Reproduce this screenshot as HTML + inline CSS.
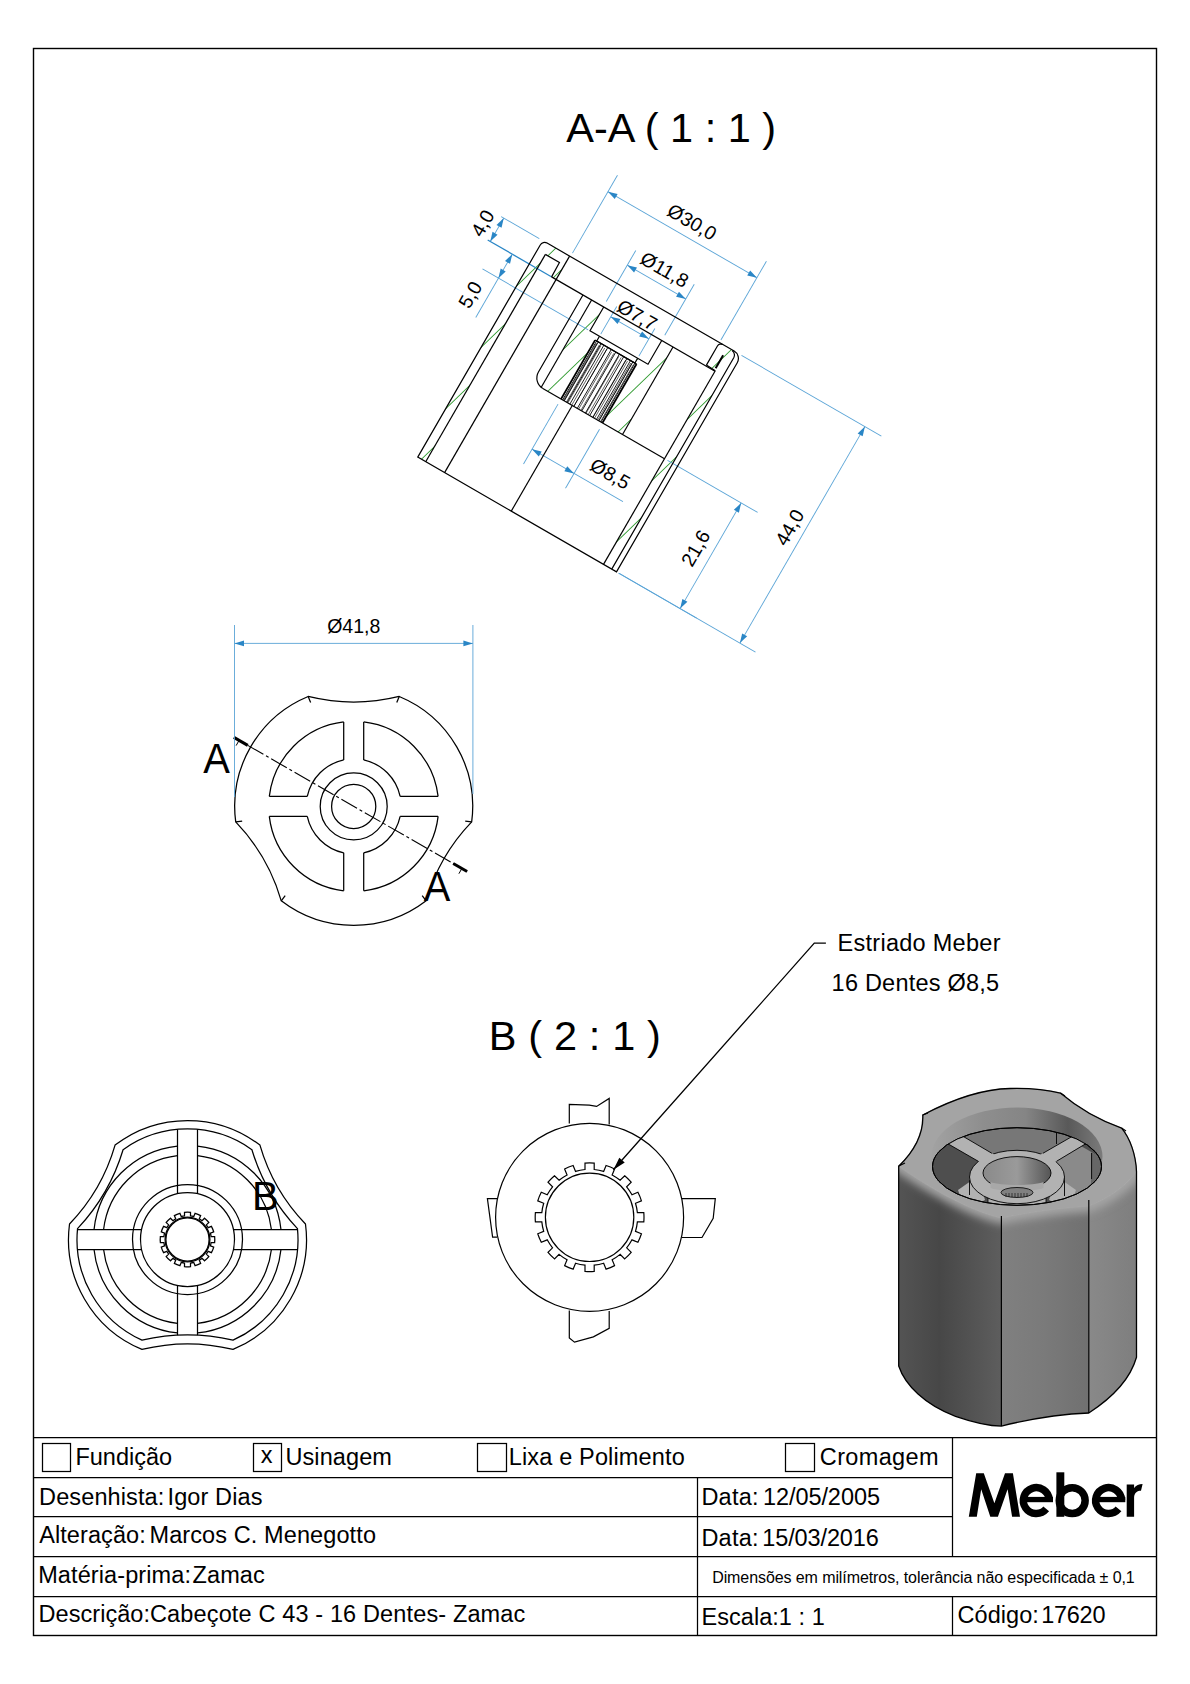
<!DOCTYPE html>
<html><head><meta charset="utf-8">
<style>
html,body{margin:0;padding:0;background:#fff;}
body{width:1190px;height:1684px;overflow:hidden;position:relative;}
svg{position:absolute;left:0;top:0;}
svg text{font-family:"Liberation Sans",sans-serif;fill:#000;}
</style></head><body>
<svg width="1190" height="1684" viewBox="0 0 1190 1684">
<rect x="33.5" y="48.5" width="1123" height="1587" fill="none" stroke="#000" stroke-width="1.4"/><g stroke="#000" stroke-width="1.25" fill="none">
<line x1="33.5" y1="1437.5" x2="1156.5" y2="1437.5"/>
<line x1="33.5" y1="1477.5" x2="952.5" y2="1477.5"/>
<line x1="33.5" y1="1516.5" x2="952.5" y2="1516.5"/>
<line x1="33.5" y1="1556.5" x2="1156.5" y2="1556.5"/>
<line x1="33.5" y1="1596.5" x2="1156.5" y2="1596.5"/>
<line x1="697.5" y1="1477.5" x2="697.5" y2="1635.5"/>
<line x1="952.5" y1="1437.5" x2="952.5" y2="1556.5"/>
<line x1="952.5" y1="1596.5" x2="952.5" y2="1635.5"/>
<rect x="42.5" y="1443.5" width="28" height="28"/>
<rect x="253.5" y="1443.5" width="28" height="28"/>
<rect x="477.5" y="1443.5" width="29" height="28"/>
<rect x="785.5" y="1443.5" width="29" height="28"/>
</g><text x="75.4" y="1464.8" font-size="23.5">Fundição</text><text x="260.8" y="1463.1" font-size="23.5">x</text><text x="285.4" y="1464.8" font-size="23.5" letter-spacing="0.10">Usinagem</text><text x="508.7" y="1464.8" font-size="23.5" letter-spacing="0.16">Lixa e Polimento</text><text x="819.8" y="1464.8" font-size="23.5" letter-spacing="0.36">Cromagem</text><text x="39.1" y="1504.8" font-size="23.5" letter-spacing="0.11">Desenhista:</text><text x="167.5" y="1504.8" font-size="23.5" letter-spacing="0.11">Igor Dias</text><text x="39.2" y="1543.4" font-size="23.5" letter-spacing="0.08">Alteração:</text><text x="149.5" y="1543.4" font-size="23.5" letter-spacing="0.10">Marcos C. Menegotto</text><text x="38.2" y="1583.3" font-size="23.5" letter-spacing="0.10">Matéria-prima:</text><text x="192.6" y="1583.3" font-size="23.5" letter-spacing="0.08">Zamac</text><text x="38.6" y="1622.3" font-size="23.5" letter-spacing="0.04">Descrição:</text><text x="150.0" y="1622.3" font-size="23.5" letter-spacing="0.14">Cabeçote C 43 - 16 Dentes- Zamac</text><text x="701.4" y="1505.2" font-size="23.5" letter-spacing="0.24">Data:</text><text x="762.9" y="1505.2" font-size="23.5" letter-spacing="-0.06">12/05/2005</text><text x="701.4" y="1545.5" font-size="23.5" letter-spacing="0.24">Data:</text><text x="762.3" y="1545.5" font-size="23.5" letter-spacing="-0.12">15/03/2016</text><text x="701.6" y="1625.3" font-size="23.5" letter-spacing="0.03">Escala:1 : 1</text><text x="957.6" y="1623.4" font-size="23.5" letter-spacing="0.04">Código:</text><text x="1041.2" y="1623.4" font-size="23.5" letter-spacing="-0.27">17620</text><text x="712.2" y="1583.4" font-size="16" letter-spacing="-0.09">Dimensões em milímetros, tolerância não especificada ± 0,1</text><text x="566.3" y="141.8" font-size="41.5">A-A ( 1 : 1 )</text><text x="488.8" y="1050.0" font-size="41.5" letter-spacing="0.14">B ( 2 : 1 )</text><text x="837.5" y="951.1" font-size="23.5" letter-spacing="0.28">Estriado Meber</text><text x="831.6" y="990.6" font-size="23.5" letter-spacing="0.22">16 Dentes Ø8,5</text><polygon points="968.8,1516.8 976.2,1473.2 983.8,1473.2 994.4,1503.3 1005,1473.2 1012.9,1473.2 1020,1516.8 1012.1,1516.8 1007.6,1489.2 997.9,1516.8 990.3,1516.8 981.2,1489.2 976.8,1516.8" fill="#000"/><path d="M1049.23,1499.92 A12.95,12.95 0 1 0 1046.22,1508.92" fill="none" stroke="#000" stroke-width="7.5"/><rect x="1022.3" y="1496.9" width="30.7" height="5.3" fill="#000"/><path d="M1121.53,1499.92 A12.95,12.95 0 1 0 1118.52,1508.92" fill="none" stroke="#000" stroke-width="7.5"/><rect x="1094.6" y="1496.9" width="30.7" height="5.3" fill="#000"/><rect x="1056.4" y="1472.3" width="7.9" height="44.5" fill="#000"/><circle cx="1072.2" cy="1500.6" r="12.95" fill="none" stroke="#000" stroke-width="7.5"/><path d="M1126.7,1516.8 L1126.7,1484.4 L1134.1,1484.4 L1134.1,1488 C1136,1485 1139,1483.9 1142.6,1483.9 L1141,1490.7 C1137.5,1490.7 1134.5,1492.5 1134.1,1497 L1134.1,1516.8 Z" fill="#000"/>
<g fill="none" stroke="#000" stroke-width="1.25"><path d="M471.68,821.93 A190,190 0 0 0 426.14,900.81 A119,119 0 0 1 281.26,900.81 A190,190 0 0 0 235.72,821.93 A119,119 0 0 1 308.16,696.46 A190,190 0 0 0 399.24,696.46 A119,119 0 0 1 471.68,821.93 Z"/><line x1="308.16" y1="696.46" x2="310.64" y2="702.47"/><line x1="399.24" y1="696.46" x2="396.76" y2="702.47"/><line x1="471.68" y1="821.93" x2="465.24" y2="821.08"/><line x1="426.14" y1="900.81" x2="422.18" y2="895.66"/><line x1="281.26" y1="900.81" x2="285.22" y2="895.66"/><line x1="235.72" y1="821.93" x2="242.16" y2="821.08"/><path d="M438.11,816.4 A85,85 0 0 1 363.7,890.81"/><path d="M343.7,890.81 A85,85 0 0 1 269.29,816.4"/><path d="M269.29,796.4 A85,85 0 0 1 343.7,721.99"/><path d="M363.7,721.99 A85,85 0 0 1 438.11,796.4"/><path d="M400.14,816.4 A47.5,47.5 0 0 1 363.7,852.84"/><path d="M343.7,852.84 A47.5,47.5 0 0 1 307.26,816.4"/><path d="M307.26,796.4 A47.5,47.5 0 0 1 343.7,759.96"/><path d="M363.7,759.96 A47.5,47.5 0 0 1 400.14,796.4"/><line x1="400.14" y1="796.4" x2="438.11" y2="796.4"/><line x1="400.14" y1="816.4" x2="438.11" y2="816.4"/><line x1="363.7" y1="852.84" x2="363.7" y2="890.81"/><line x1="343.7" y1="852.84" x2="343.7" y2="890.81"/><line x1="307.26" y1="816.4" x2="269.29" y2="816.4"/><line x1="307.26" y1="796.4" x2="269.29" y2="796.4"/><line x1="343.7" y1="759.96" x2="343.7" y2="721.99"/><line x1="363.7" y1="759.96" x2="363.7" y2="721.99"/><circle cx="353.7" cy="806.4" r="33.5"/><circle cx="353.7" cy="806.4" r="22.1"/></g><line x1="233.9" y1="737.4" x2="467.1" y2="871.49" stroke="#000" stroke-width="1.1" stroke-dasharray="18 3 3 3" stroke-dashoffset="-16"/><line x1="233.9" y1="737.4" x2="247.77" y2="745.38" stroke="#000" stroke-width="3"/><line x1="239.1" y1="740.39" x2="236.11" y2="745.59" stroke="#000" stroke-width="1"/><line x1="467.1" y1="871.49" x2="453.22" y2="863.52" stroke="#000" stroke-width="3"/><line x1="461.89" y1="868.5" x2="458.9" y2="873.7" stroke="#000" stroke-width="1"/><text transform="translate(216.5,773) scale(0.95,1)" x="0" y="0" font-size="42" text-anchor="middle">A</text><text transform="translate(437.1,900.6) scale(0.95,1)" x="0" y="0" font-size="42" text-anchor="middle">A</text><g stroke="#5aa4d6" stroke-width="0.9" fill="none"><line x1="234.5" y1="625" x2="234.5" y2="797"/><line x1="472.9" y1="625" x2="472.9" y2="794"/><line x1="234.5" y1="643.4" x2="472.9" y2="643.4"/></g><path d="M234.5,643.4 L244,640.5 L244,646.3 Z" fill="#2a86c6" stroke="none"/><path d="M472.9,643.4 L463.4,646.3 L463.4,640.5 Z" fill="#2a86c6" stroke="none"/><text x="353.7" y="632.6" font-size="19.5" text-anchor="middle">Ø41,8</text>
<g fill="none" stroke="#000" stroke-width="1.25"><path d="M233.04,1349.44 A190,190 0 0 0 141.96,1349.44 A119,119 0 0 1 69.52,1223.97 A190,190 0 0 0 115.06,1145.09 A119,119 0 0 1 259.94,1145.09 A190,190 0 0 0 305.48,1223.97 A119,119 0 0 1 233.04,1349.44 Z"/><path d="M233.04,1340.18 A199,199 0 0 0 141.96,1340.18 A110.5,110.5 0 0 1 77.54,1228.6 A199,199 0 0 0 123.08,1149.72 A110.5,110.5 0 0 1 251.92,1149.72 A199,199 0 0 0 297.46,1228.6 A110.5,110.5 0 0 1 233.04,1340.18 Z"/><path d="M280.97,1249.5 A94,94 0 0 1 197.5,1332.97"/><path d="M177.5,1332.97 A94,94 0 0 1 94.03,1249.5"/><path d="M94.03,1229.5 A94,94 0 0 1 177.5,1146.03"/><path d="M197.5,1146.03 A94,94 0 0 1 280.97,1229.5"/><path d="M271.41,1249.5 A84.5,84.5 0 0 1 197.5,1323.41"/><path d="M177.5,1323.41 A84.5,84.5 0 0 1 103.59,1249.5"/><path d="M103.59,1229.5 A84.5,84.5 0 0 1 177.5,1155.59"/><path d="M197.5,1155.59 A84.5,84.5 0 0 1 271.41,1229.5"/><circle cx="187.5" cy="1239.5" r="55"/><circle cx="187.5" cy="1239.5" r="47"/><line x1="233.42" y1="1229.5" x2="297.67" y2="1229.5"/><line x1="233.42" y1="1249.5" x2="297.67" y2="1249.5"/><line x1="197.5" y1="1285.42" x2="197.5" y2="1335.17"/><line x1="177.5" y1="1285.42" x2="177.5" y2="1335.17"/><line x1="141.58" y1="1249.5" x2="77.33" y2="1249.5"/><line x1="141.58" y1="1229.5" x2="77.33" y2="1229.5"/><line x1="177.5" y1="1193.58" x2="177.5" y2="1129.33"/><line x1="197.5" y1="1193.58" x2="197.5" y2="1129.33"/><path d="M211.11,1236.5 L214.63,1236.5 A27.3,27.3 0 0 1 214.63,1242.5 L211.11,1242.5 A23.8,23.8 0 0 1 210.46,1245.76 L213.72,1247.11 A27.3,27.3 0 0 1 211.42,1252.66 L208.16,1251.31 A23.8,23.8 0 0 1 206.32,1254.07 L208.81,1256.57 A27.3,27.3 0 0 1 204.57,1260.81 L202.07,1258.32 A23.8,23.8 0 0 1 199.31,1260.16 L200.66,1263.42 A27.3,27.3 0 0 1 195.11,1265.72 L193.76,1262.46 A23.8,23.8 0 0 1 190.5,1263.11 L190.5,1266.63 A27.3,27.3 0 0 1 184.5,1266.63 L184.5,1263.11 A23.8,23.8 0 0 1 181.24,1262.46 L179.89,1265.72 A27.3,27.3 0 0 1 174.34,1263.42 L175.69,1260.16 A23.8,23.8 0 0 1 172.93,1258.32 L170.43,1260.81 A27.3,27.3 0 0 1 166.19,1256.57 L168.68,1254.07 A23.8,23.8 0 0 1 166.84,1251.31 L163.58,1252.66 A27.3,27.3 0 0 1 161.28,1247.11 L164.54,1245.76 A23.8,23.8 0 0 1 163.89,1242.5 L160.37,1242.5 A27.3,27.3 0 0 1 160.37,1236.5 L163.89,1236.5 A23.8,23.8 0 0 1 164.54,1233.24 L161.28,1231.89 A27.3,27.3 0 0 1 163.58,1226.34 L166.84,1227.69 A23.8,23.8 0 0 1 168.68,1224.93 L166.19,1222.43 A27.3,27.3 0 0 1 170.43,1218.19 L172.93,1220.68 A23.8,23.8 0 0 1 175.69,1218.84 L174.34,1215.58 A27.3,27.3 0 0 1 179.89,1213.28 L181.24,1216.54 A23.8,23.8 0 0 1 184.5,1215.89 L184.5,1212.37 A27.3,27.3 0 0 1 190.5,1212.37 L190.5,1215.89 A23.8,23.8 0 0 1 193.76,1216.54 L195.11,1213.28 A27.3,27.3 0 0 1 200.66,1215.58 L199.31,1218.84 A23.8,23.8 0 0 1 202.07,1220.68 L204.57,1218.19 A27.3,27.3 0 0 1 208.81,1222.43 L206.32,1224.93 A23.8,23.8 0 0 1 208.16,1227.69 L211.42,1226.34 A27.3,27.3 0 0 1 213.72,1231.89 L210.46,1233.24 A23.8,23.8 0 0 1 211.11,1236.5 Z"/><circle cx="187.5" cy="1239.5" r="21.6"/><circle cx="187.5" cy="1239.5" r="22.4"/></g><text x="252" y="1210" font-size="40">B</text>
<g fill="none" stroke="#000" stroke-width="1.2"><circle cx="589.6" cy="1217.3" r="94"/><path d="M637.38,1212.7 L643.81,1212.7 A54.4,54.4 0 0 1 643.81,1221.9 L637.38,1221.9 A48,48 0 0 1 635.5,1231.33 L641.44,1233.79 A54.4,54.4 0 0 1 637.92,1242.29 L631.98,1239.83 A48,48 0 0 1 626.64,1247.83 L631.18,1252.38 A54.4,54.4 0 0 1 624.68,1258.88 L620.13,1254.34 A48,48 0 0 1 612.13,1259.68 L614.59,1265.62 A54.4,54.4 0 0 1 606.09,1269.14 L603.63,1263.2 A48,48 0 0 1 594.2,1265.08 L594.2,1271.51 A54.4,54.4 0 0 1 585,1271.51 L585,1265.08 A48,48 0 0 1 575.57,1263.2 L573.11,1269.14 A54.4,54.4 0 0 1 564.61,1265.62 L567.07,1259.68 A48,48 0 0 1 559.07,1254.34 L554.52,1258.88 A54.4,54.4 0 0 1 548.02,1252.38 L552.56,1247.83 A48,48 0 0 1 547.22,1239.83 L541.28,1242.29 A54.4,54.4 0 0 1 537.76,1233.79 L543.7,1231.33 A48,48 0 0 1 541.82,1221.9 L535.39,1221.9 A54.4,54.4 0 0 1 535.39,1212.7 L541.82,1212.7 A48,48 0 0 1 543.7,1203.27 L537.76,1200.81 A54.4,54.4 0 0 1 541.28,1192.31 L547.22,1194.77 A48,48 0 0 1 552.56,1186.77 L548.02,1182.22 A54.4,54.4 0 0 1 554.52,1175.72 L559.07,1180.26 A48,48 0 0 1 567.07,1174.92 L564.61,1168.98 A54.4,54.4 0 0 1 573.11,1165.46 L575.57,1171.4 A48,48 0 0 1 585,1169.52 L585,1163.09 A54.4,54.4 0 0 1 594.2,1163.09 L594.2,1169.52 A48,48 0 0 1 603.63,1171.4 L606.09,1165.46 A54.4,54.4 0 0 1 614.59,1168.98 L612.13,1174.92 A48,48 0 0 1 620.13,1180.26 L624.68,1175.72 A54.4,54.4 0 0 1 631.18,1182.22 L626.64,1186.77 A48,48 0 0 1 631.98,1194.77 L637.92,1192.31 A54.4,54.4 0 0 1 641.44,1200.81 L635.5,1203.27 A48,48 0 0 1 637.38,1212.7 Z"/><circle cx="589.6" cy="1217.3" r="44.2"/><polyline points="569.3,1123.6 569.3,1104.3 589.3,1105.2 596.6,1106.4 609.2,1098.4 609.2,1124.5"/><polyline points="681.8,1198.6 715.3,1198.6 713.2,1218.2 702,1237.5 681.8,1237.5"/><polyline points="569.3,1310.6 569.3,1337.9 574.5,1342.1 593.4,1336.9 609.2,1328.4 609.2,1311"/><polyline points="497,1198.6 487.4,1198.6 492.6,1237.1 497,1237.1"/></g><polyline points="613.4,1169.8 814.3,943.1 825.9,943.1" fill="none" stroke="#000" stroke-width="1.3"/><path d="M613.4,1169.8 L619.33,1157.68 L624.72,1162.46 Z" fill="#000" stroke="none"/>
<defs>
<linearGradient id="gL" x1="898" y1="0" x2="1002" y2="0" gradientUnits="userSpaceOnUse">
<stop offset="0" stop-color="#545454"/><stop offset="0.4" stop-color="#474747"/><stop offset="1" stop-color="#5e5e5e"/></linearGradient>
<linearGradient id="gM" x1="1001" y1="0" x2="1089" y2="0" gradientUnits="userSpaceOnUse">
<stop offset="0" stop-color="#808080"/><stop offset="0.5" stop-color="#7a7a7a"/><stop offset="1" stop-color="#707070"/></linearGradient>
<linearGradient id="gR" x1="1089" y1="0" x2="1137" y2="0" gradientUnits="userSpaceOnUse">
<stop offset="0" stop-color="#898989"/><stop offset="1" stop-color="#7e7e7e"/></linearGradient>
<linearGradient id="gFil" x1="0" y1="1150" x2="0" y2="1235" gradientUnits="userSpaceOnUse">
<stop offset="0" stop-color="#a6a6a6"/><stop offset="0.55" stop-color="#a2a2a2"/><stop offset="1" stop-color="#a2a2a2" stop-opacity="0"/></linearGradient>
<linearGradient id="gWall" x1="932" y1="0" x2="1102" y2="0" gradientUnits="userSpaceOnUse">
<stop offset="0" stop-color="#a2a2a2"/><stop offset="0.3" stop-color="#8e8e8e"/><stop offset="0.55" stop-color="#858585"/><stop offset="0.8" stop-color="#595959"/><stop offset="1" stop-color="#7a7a7a"/></linearGradient>
<linearGradient id="gHole" x1="983" y1="0" x2="1051" y2="0" gradientUnits="userSpaceOnUse">
<stop offset="0" stop-color="#8a8a8a"/><stop offset="0.5" stop-color="#9a9a9a"/><stop offset="1" stop-color="#555555"/></linearGradient>
</defs><path d="M898.7,1166 L898.7,1366 C905,1385 925,1405 955.5,1416.3 C975,1423 990,1426 1001.4,1426.1 L1001.4,1218 C975,1212 940,1195 898.7,1166 Z" fill="url(#gL)"/><path d="M1001.4,1218 L1001.4,1426.1 C1030,1419 1060,1414 1088.8,1413 L1088.8,1206 C1060,1208 1030,1212 1001.4,1218 Z" fill="url(#gM)"/><path d="M1088.8,1206 L1088.8,1413 C1112,1398 1130,1380 1136.5,1357.3 L1136.5,1171.8 C1125,1188 1105,1200 1088.8,1206 Z" fill="url(#gR)"/><path d="M898.7,1166.3 Q923.9,1141.7 922.8,1115 C955,1098 985,1089 1010,1088.5 C1030,1088 1048,1090 1060.4,1093.1 Q1087.7,1116.3 1121.6,1128.1 C1130,1138 1136,1155 1136.5,1171.8 C1125,1188 1105,1200 1088.8,1206 C1060,1208 1030,1212 1001.4,1218 C975,1212 940,1195 898.7,1166.3 Z" fill="#a4a4a4" stroke="#a4a4a4" stroke-width="1"/><filter id="fb" x="-20%" y="-50%" width="140%" height="200%"><feGaussianBlur stdDeviation="4"/></filter><clipPath id="cSide"><path d="M898.7,1166 L898.7,1366 C905,1385 925,1405 955.5,1416.3 C975,1423 990,1426 1001.4,1426.1 L1001.4,1218 C975,1212 940,1195 898.7,1166 Z"/><path d="M1001.4,1218 L1001.4,1426.1 C1030,1419 1060,1414 1088.8,1413 L1088.8,1206 C1060,1208 1030,1212 1001.4,1218 Z"/><path d="M1088.8,1206 L1088.8,1413 C1112,1398 1130,1380 1136.5,1357.3 L1136.5,1171.8 C1125,1188 1105,1200 1088.8,1206 Z"/></clipPath><g clip-path="url(#cSide)"><path d="M890,1159 C940,1194 975,1211 1001.4,1217 C1030,1211 1060,1207 1088.8,1205 C1105,1199 1125,1187 1145,1164" fill="none" stroke="#a4a4a4" stroke-width="14" filter="url(#fb)"/></g><ellipse cx="1017" cy="1156.5" rx="85.5" ry="49" fill="url(#gWall)"/><clipPath id="cFloor"><ellipse cx="1017" cy="1166.5" rx="84.5" ry="38.8"/></clipPath><g clip-path="url(#cFloor)"><rect x="930" y="1120" width="175" height="90" fill="#4e4e4e"/><polygon points="940,1120 990,1158 1044,1158 1094,1120" fill="#777777"/><polygon points="1056,1161 1081,1146 1105,1160 1105,1210 1064,1210" fill="#8a8a8a"/><polygon points="1091,1152 1105,1160 1105,1210 1091,1190" fill="#666666"/><polygon points="958,1190 978,1176 985,1200 965,1210" fill="#b2b2b2"/><polygon points="1076,1190 1056,1176 1049,1200 1069,1210" fill="#b2b2b2"/><rect x="988" y="1198" width="58" height="12" fill="#b2b2b2" stroke="#000" stroke-width="0.8"/></g><ellipse cx="1017" cy="1166.5" rx="84.5" ry="38.8" fill="none" stroke="#000" stroke-width="1"/><g stroke="#000" stroke-width="0.9"><line x1="1056.5" y1="1132.5" x2="1056.5" y2="1144"/><line x1="1091.6" y1="1153" x2="1091.6" y2="1179"/><line x1="969.5" y1="1180" x2="969.5" y2="1195"/><line x1="1064.5" y1="1178" x2="1064.5" y2="1196"/></g><ellipse cx="1017" cy="1177" rx="47.5" ry="26.7" fill="#b2b2b2" stroke="#000" stroke-width="0.9"/><g clip-path="url(#cFloor)"><polygon points="938.9,1138.6 982.6,1163.8 996.2,1155.8 953.3,1130.6" fill="#b2b2b2"/><polygon points="1038.6,1155.8 1082.3,1130.6 1094.3,1138.6 1052.2,1163.8" fill="#b2b2b2"/><g stroke="#000" stroke-width="0.9"><line x1="938.9" y1="1138.6" x2="978.3" y2="1161.3"/><line x1="953.3" y1="1130.6" x2="991.9" y2="1153.3"/><line x1="1042.9" y1="1153.3" x2="1082.3" y2="1130.6"/><line x1="1056.5" y1="1161.3" x2="1094.3" y2="1138.6"/></g></g><ellipse cx="1017" cy="1166.5" rx="84.5" ry="38.8" fill="none" stroke="#000" stroke-width="1"/><ellipse cx="1017" cy="1173" rx="34" ry="16.4" fill="url(#gHole)" stroke="#000" stroke-width="0.9"/><path d="M990.5,1182 C1000,1186 1034,1186 1043.5,1182 L1043.5,1188 C1034,1192 1000,1192 990.5,1188 Z" fill="#a8a8a8"/><ellipse cx="1017" cy="1192.5" rx="16" ry="5" fill="#808080" stroke="#000" stroke-width="0.8"/><g stroke="#000" stroke-width="0.6"><line x1="1006" y1="1193" x2="1006" y2="1197"/><line x1="1009" y1="1193" x2="1009" y2="1197"/><line x1="1012" y1="1193" x2="1012" y2="1197"/><line x1="1015" y1="1193" x2="1015" y2="1197"/><line x1="1018" y1="1193" x2="1018" y2="1197"/><line x1="1021" y1="1193" x2="1021" y2="1197"/><line x1="1024" y1="1193" x2="1024" y2="1197"/><line x1="1027" y1="1193" x2="1027" y2="1197"/></g><path d="M898.7,1166.3 L898.7,1366 C905,1385 925,1405 955.5,1416.3 C975,1423 990,1426 1001.4,1426.1 C1030,1419 1060,1414 1088.8,1413 C1112,1398 1130,1380 1136.5,1357.3 L1136.5,1171.8 C1136,1155 1130,1138 1121.6,1128.1 Q1087.7,1116.3 1060.4,1093.1 C1048,1090 1030,1088 1010,1088.5 C985,1089 955,1098 922.8,1115 Q923.9,1141.7 898.7,1166.3 Z" fill="none" stroke="#000" stroke-width="1.3"/><g stroke="#000" stroke-width="1.2"><line x1="1001.4" y1="1216" x2="1001.4" y2="1426"/><line x1="1088.8" y1="1200" x2="1088.8" y2="1413"/><line x1="898.7" y1="1166" x2="905" y2="1163"/><line x1="922.8" y1="1115" x2="928" y2="1113"/><line x1="1060.4" y1="1093.1" x2="1065" y2="1096"/><line x1="1121.6" y1="1128.1" x2="1126" y2="1131"/></g>
<g transform="translate(542.75,240.6) rotate(30)"><clipPath id="hc0"><polygon points="0,5 5,0 31,0 31,27 25.8,27 25.4,10.6 9.2,10.6 9.2,250 0,250"/></clipPath><clipPath id="hc1"><polygon points="72,27 86,27 86,54.5 97,54.5 97,60 95,60 95,128 72,128"/></clipPath><clipPath id="hc2"><polygon points="153,27 166,27 166,128 143,128 143,60 141,60 141,54.5 153,54.5"/></clipPath><clipPath id="hc3"><polygon points="214.5,26.5 224,26.5 224,250 214.5,250"/></clipPath><clipPath id="hc4"><polygon points="204,4 208,0 221,0 224,6 224,26.5 214.5,26.5 204,26"/></clipPath><g clip-path="url(#hc0)" stroke="#2f9a2f" stroke-width="0.9"><line x1="-846.1" y1="173.5" x2="-625.59" y2="-595.51"/><line x1="-827.36" y1="178.88" x2="-606.85" y2="-590.13"/><line x1="-808.61" y1="184.25" x2="-588.1" y2="-584.76"/><line x1="-789.87" y1="189.63" x2="-569.36" y2="-579.38"/><line x1="-771.12" y1="195" x2="-550.61" y2="-574.01"/><line x1="-752.38" y1="200.38" x2="-531.87" y2="-568.63"/><line x1="-733.63" y1="205.75" x2="-513.12" y2="-563.26"/><line x1="-714.89" y1="211.13" x2="-494.38" y2="-557.88"/><line x1="-696.14" y1="216.5" x2="-475.63" y2="-552.51"/><line x1="-677.4" y1="221.88" x2="-456.89" y2="-547.13"/><line x1="-658.65" y1="227.25" x2="-438.14" y2="-541.76"/><line x1="-639.91" y1="232.63" x2="-419.4" y2="-536.38"/><line x1="-621.17" y1="238" x2="-400.66" y2="-531.01"/><line x1="-602.42" y1="243.38" x2="-381.91" y2="-525.63"/><line x1="-583.68" y1="248.75" x2="-363.17" y2="-520.26"/><line x1="-564.93" y1="254.13" x2="-344.42" y2="-514.88"/><line x1="-546.19" y1="259.5" x2="-325.68" y2="-509.51"/><line x1="-527.44" y1="264.88" x2="-306.93" y2="-504.13"/><line x1="-508.7" y1="270.25" x2="-288.19" y2="-498.76"/><line x1="-489.95" y1="275.63" x2="-269.44" y2="-493.38"/><line x1="-471.21" y1="281" x2="-250.7" y2="-488.01"/><line x1="-452.46" y1="286.38" x2="-231.95" y2="-482.63"/><line x1="-433.72" y1="291.75" x2="-213.21" y2="-477.26"/><line x1="-414.97" y1="297.13" x2="-194.47" y2="-471.88"/><line x1="-396.23" y1="302.5" x2="-175.72" y2="-466.51"/><line x1="-377.49" y1="307.88" x2="-156.98" y2="-461.13"/><line x1="-358.74" y1="313.25" x2="-138.23" y2="-455.76"/><line x1="-340" y1="318.63" x2="-119.49" y2="-450.38"/><line x1="-321.25" y1="324" x2="-100.74" y2="-445.01"/><line x1="-302.51" y1="329.38" x2="-82" y2="-439.63"/><line x1="-283.76" y1="334.75" x2="-63.25" y2="-434.26"/><line x1="-265.02" y1="340.13" x2="-44.51" y2="-428.88"/><line x1="-246.27" y1="345.5" x2="-25.76" y2="-423.51"/><line x1="-227.53" y1="350.88" x2="-7.02" y2="-418.13"/><line x1="-208.78" y1="356.25" x2="11.73" y2="-412.76"/><line x1="-190.04" y1="361.63" x2="30.47" y2="-407.38"/><line x1="-171.3" y1="367" x2="49.21" y2="-402.01"/><line x1="-152.55" y1="372.38" x2="67.96" y2="-396.63"/><line x1="-133.81" y1="377.75" x2="86.7" y2="-391.26"/><line x1="-115.06" y1="383.13" x2="105.45" y2="-385.88"/><line x1="-96.32" y1="388.5" x2="124.19" y2="-380.51"/><line x1="-77.57" y1="393.88" x2="142.94" y2="-375.13"/><line x1="-58.83" y1="399.25" x2="161.68" y2="-369.76"/><line x1="-40.08" y1="404.63" x2="180.43" y2="-364.38"/><line x1="-21.34" y1="410" x2="199.17" y2="-359.01"/><line x1="-2.59" y1="415.38" x2="217.92" y2="-353.63"/><line x1="16.15" y1="420.75" x2="236.66" y2="-348.26"/><line x1="34.9" y1="426.13" x2="255.41" y2="-342.88"/><line x1="53.64" y1="431.5" x2="274.15" y2="-337.51"/><line x1="72.38" y1="436.88" x2="292.89" y2="-332.13"/><line x1="91.13" y1="442.25" x2="311.64" y2="-326.76"/><line x1="109.87" y1="447.63" x2="330.38" y2="-321.38"/><line x1="128.62" y1="453" x2="349.13" y2="-316.01"/><line x1="147.36" y1="458.38" x2="367.87" y2="-310.63"/><line x1="166.11" y1="463.75" x2="386.62" y2="-305.26"/><line x1="184.85" y1="469.13" x2="405.36" y2="-299.88"/><line x1="203.6" y1="474.5" x2="424.11" y2="-294.51"/><line x1="222.34" y1="479.88" x2="442.85" y2="-289.13"/><line x1="241.09" y1="485.25" x2="461.6" y2="-283.76"/><line x1="259.83" y1="490.63" x2="480.34" y2="-278.38"/><line x1="278.58" y1="496" x2="499.09" y2="-273.01"/><line x1="297.32" y1="501.37" x2="517.83" y2="-267.63"/><line x1="316.06" y1="506.75" x2="536.57" y2="-262.26"/><line x1="334.81" y1="512.12" x2="555.32" y2="-256.88"/><line x1="353.55" y1="517.5" x2="574.06" y2="-251.51"/><line x1="372.3" y1="522.87" x2="592.81" y2="-246.13"/><line x1="391.04" y1="528.25" x2="611.55" y2="-240.76"/><line x1="409.79" y1="533.62" x2="630.3" y2="-235.38"/><line x1="428.53" y1="539" x2="649.04" y2="-230.01"/><line x1="447.28" y1="544.37" x2="667.79" y2="-224.64"/><line x1="466.02" y1="549.75" x2="686.53" y2="-219.26"/><line x1="484.77" y1="555.12" x2="705.28" y2="-213.89"/><line x1="503.51" y1="560.5" x2="724.02" y2="-208.51"/><line x1="522.26" y1="565.87" x2="742.77" y2="-203.14"/><line x1="541" y1="571.25" x2="761.51" y2="-197.76"/><line x1="559.74" y1="576.62" x2="780.25" y2="-192.39"/><line x1="578.49" y1="582" x2="799" y2="-187.01"/><line x1="597.23" y1="587.37" x2="817.74" y2="-181.64"/><line x1="615.98" y1="592.75" x2="836.49" y2="-176.26"/><line x1="634.72" y1="598.12" x2="855.23" y2="-170.89"/></g><g clip-path="url(#hc1)" stroke="#2f9a2f" stroke-width="0.9"><line x1="-846.1" y1="173.5" x2="-625.59" y2="-595.51"/><line x1="-827.36" y1="178.88" x2="-606.85" y2="-590.13"/><line x1="-808.61" y1="184.25" x2="-588.1" y2="-584.76"/><line x1="-789.87" y1="189.63" x2="-569.36" y2="-579.38"/><line x1="-771.12" y1="195" x2="-550.61" y2="-574.01"/><line x1="-752.38" y1="200.38" x2="-531.87" y2="-568.63"/><line x1="-733.63" y1="205.75" x2="-513.12" y2="-563.26"/><line x1="-714.89" y1="211.13" x2="-494.38" y2="-557.88"/><line x1="-696.14" y1="216.5" x2="-475.63" y2="-552.51"/><line x1="-677.4" y1="221.88" x2="-456.89" y2="-547.13"/><line x1="-658.65" y1="227.25" x2="-438.14" y2="-541.76"/><line x1="-639.91" y1="232.63" x2="-419.4" y2="-536.38"/><line x1="-621.17" y1="238" x2="-400.66" y2="-531.01"/><line x1="-602.42" y1="243.38" x2="-381.91" y2="-525.63"/><line x1="-583.68" y1="248.75" x2="-363.17" y2="-520.26"/><line x1="-564.93" y1="254.13" x2="-344.42" y2="-514.88"/><line x1="-546.19" y1="259.5" x2="-325.68" y2="-509.51"/><line x1="-527.44" y1="264.88" x2="-306.93" y2="-504.13"/><line x1="-508.7" y1="270.25" x2="-288.19" y2="-498.76"/><line x1="-489.95" y1="275.63" x2="-269.44" y2="-493.38"/><line x1="-471.21" y1="281" x2="-250.7" y2="-488.01"/><line x1="-452.46" y1="286.38" x2="-231.95" y2="-482.63"/><line x1="-433.72" y1="291.75" x2="-213.21" y2="-477.26"/><line x1="-414.97" y1="297.13" x2="-194.47" y2="-471.88"/><line x1="-396.23" y1="302.5" x2="-175.72" y2="-466.51"/><line x1="-377.49" y1="307.88" x2="-156.98" y2="-461.13"/><line x1="-358.74" y1="313.25" x2="-138.23" y2="-455.76"/><line x1="-340" y1="318.63" x2="-119.49" y2="-450.38"/><line x1="-321.25" y1="324" x2="-100.74" y2="-445.01"/><line x1="-302.51" y1="329.38" x2="-82" y2="-439.63"/><line x1="-283.76" y1="334.75" x2="-63.25" y2="-434.26"/><line x1="-265.02" y1="340.13" x2="-44.51" y2="-428.88"/><line x1="-246.27" y1="345.5" x2="-25.76" y2="-423.51"/><line x1="-227.53" y1="350.88" x2="-7.02" y2="-418.13"/><line x1="-208.78" y1="356.25" x2="11.73" y2="-412.76"/><line x1="-190.04" y1="361.63" x2="30.47" y2="-407.38"/><line x1="-171.3" y1="367" x2="49.21" y2="-402.01"/><line x1="-152.55" y1="372.38" x2="67.96" y2="-396.63"/><line x1="-133.81" y1="377.75" x2="86.7" y2="-391.26"/><line x1="-115.06" y1="383.13" x2="105.45" y2="-385.88"/><line x1="-96.32" y1="388.5" x2="124.19" y2="-380.51"/><line x1="-77.57" y1="393.88" x2="142.94" y2="-375.13"/><line x1="-58.83" y1="399.25" x2="161.68" y2="-369.76"/><line x1="-40.08" y1="404.63" x2="180.43" y2="-364.38"/><line x1="-21.34" y1="410" x2="199.17" y2="-359.01"/><line x1="-2.59" y1="415.38" x2="217.92" y2="-353.63"/><line x1="16.15" y1="420.75" x2="236.66" y2="-348.26"/><line x1="34.9" y1="426.13" x2="255.41" y2="-342.88"/><line x1="53.64" y1="431.5" x2="274.15" y2="-337.51"/><line x1="72.38" y1="436.88" x2="292.89" y2="-332.13"/><line x1="91.13" y1="442.25" x2="311.64" y2="-326.76"/><line x1="109.87" y1="447.63" x2="330.38" y2="-321.38"/><line x1="128.62" y1="453" x2="349.13" y2="-316.01"/><line x1="147.36" y1="458.38" x2="367.87" y2="-310.63"/><line x1="166.11" y1="463.75" x2="386.62" y2="-305.26"/><line x1="184.85" y1="469.13" x2="405.36" y2="-299.88"/><line x1="203.6" y1="474.5" x2="424.11" y2="-294.51"/><line x1="222.34" y1="479.88" x2="442.85" y2="-289.13"/><line x1="241.09" y1="485.25" x2="461.6" y2="-283.76"/><line x1="259.83" y1="490.63" x2="480.34" y2="-278.38"/><line x1="278.58" y1="496" x2="499.09" y2="-273.01"/><line x1="297.32" y1="501.37" x2="517.83" y2="-267.63"/><line x1="316.06" y1="506.75" x2="536.57" y2="-262.26"/><line x1="334.81" y1="512.12" x2="555.32" y2="-256.88"/><line x1="353.55" y1="517.5" x2="574.06" y2="-251.51"/><line x1="372.3" y1="522.87" x2="592.81" y2="-246.13"/><line x1="391.04" y1="528.25" x2="611.55" y2="-240.76"/><line x1="409.79" y1="533.62" x2="630.3" y2="-235.38"/><line x1="428.53" y1="539" x2="649.04" y2="-230.01"/><line x1="447.28" y1="544.37" x2="667.79" y2="-224.64"/><line x1="466.02" y1="549.75" x2="686.53" y2="-219.26"/><line x1="484.77" y1="555.12" x2="705.28" y2="-213.89"/><line x1="503.51" y1="560.5" x2="724.02" y2="-208.51"/><line x1="522.26" y1="565.87" x2="742.77" y2="-203.14"/><line x1="541" y1="571.25" x2="761.51" y2="-197.76"/><line x1="559.74" y1="576.62" x2="780.25" y2="-192.39"/><line x1="578.49" y1="582" x2="799" y2="-187.01"/><line x1="597.23" y1="587.37" x2="817.74" y2="-181.64"/><line x1="615.98" y1="592.75" x2="836.49" y2="-176.26"/><line x1="634.72" y1="598.12" x2="855.23" y2="-170.89"/></g><g clip-path="url(#hc2)" stroke="#2f9a2f" stroke-width="0.9"><line x1="-846.1" y1="173.5" x2="-625.59" y2="-595.51"/><line x1="-827.36" y1="178.88" x2="-606.85" y2="-590.13"/><line x1="-808.61" y1="184.25" x2="-588.1" y2="-584.76"/><line x1="-789.87" y1="189.63" x2="-569.36" y2="-579.38"/><line x1="-771.12" y1="195" x2="-550.61" y2="-574.01"/><line x1="-752.38" y1="200.38" x2="-531.87" y2="-568.63"/><line x1="-733.63" y1="205.75" x2="-513.12" y2="-563.26"/><line x1="-714.89" y1="211.13" x2="-494.38" y2="-557.88"/><line x1="-696.14" y1="216.5" x2="-475.63" y2="-552.51"/><line x1="-677.4" y1="221.88" x2="-456.89" y2="-547.13"/><line x1="-658.65" y1="227.25" x2="-438.14" y2="-541.76"/><line x1="-639.91" y1="232.63" x2="-419.4" y2="-536.38"/><line x1="-621.17" y1="238" x2="-400.66" y2="-531.01"/><line x1="-602.42" y1="243.38" x2="-381.91" y2="-525.63"/><line x1="-583.68" y1="248.75" x2="-363.17" y2="-520.26"/><line x1="-564.93" y1="254.13" x2="-344.42" y2="-514.88"/><line x1="-546.19" y1="259.5" x2="-325.68" y2="-509.51"/><line x1="-527.44" y1="264.88" x2="-306.93" y2="-504.13"/><line x1="-508.7" y1="270.25" x2="-288.19" y2="-498.76"/><line x1="-489.95" y1="275.63" x2="-269.44" y2="-493.38"/><line x1="-471.21" y1="281" x2="-250.7" y2="-488.01"/><line x1="-452.46" y1="286.38" x2="-231.95" y2="-482.63"/><line x1="-433.72" y1="291.75" x2="-213.21" y2="-477.26"/><line x1="-414.97" y1="297.13" x2="-194.47" y2="-471.88"/><line x1="-396.23" y1="302.5" x2="-175.72" y2="-466.51"/><line x1="-377.49" y1="307.88" x2="-156.98" y2="-461.13"/><line x1="-358.74" y1="313.25" x2="-138.23" y2="-455.76"/><line x1="-340" y1="318.63" x2="-119.49" y2="-450.38"/><line x1="-321.25" y1="324" x2="-100.74" y2="-445.01"/><line x1="-302.51" y1="329.38" x2="-82" y2="-439.63"/><line x1="-283.76" y1="334.75" x2="-63.25" y2="-434.26"/><line x1="-265.02" y1="340.13" x2="-44.51" y2="-428.88"/><line x1="-246.27" y1="345.5" x2="-25.76" y2="-423.51"/><line x1="-227.53" y1="350.88" x2="-7.02" y2="-418.13"/><line x1="-208.78" y1="356.25" x2="11.73" y2="-412.76"/><line x1="-190.04" y1="361.63" x2="30.47" y2="-407.38"/><line x1="-171.3" y1="367" x2="49.21" y2="-402.01"/><line x1="-152.55" y1="372.38" x2="67.96" y2="-396.63"/><line x1="-133.81" y1="377.75" x2="86.7" y2="-391.26"/><line x1="-115.06" y1="383.13" x2="105.45" y2="-385.88"/><line x1="-96.32" y1="388.5" x2="124.19" y2="-380.51"/><line x1="-77.57" y1="393.88" x2="142.94" y2="-375.13"/><line x1="-58.83" y1="399.25" x2="161.68" y2="-369.76"/><line x1="-40.08" y1="404.63" x2="180.43" y2="-364.38"/><line x1="-21.34" y1="410" x2="199.17" y2="-359.01"/><line x1="-2.59" y1="415.38" x2="217.92" y2="-353.63"/><line x1="16.15" y1="420.75" x2="236.66" y2="-348.26"/><line x1="34.9" y1="426.13" x2="255.41" y2="-342.88"/><line x1="53.64" y1="431.5" x2="274.15" y2="-337.51"/><line x1="72.38" y1="436.88" x2="292.89" y2="-332.13"/><line x1="91.13" y1="442.25" x2="311.64" y2="-326.76"/><line x1="109.87" y1="447.63" x2="330.38" y2="-321.38"/><line x1="128.62" y1="453" x2="349.13" y2="-316.01"/><line x1="147.36" y1="458.38" x2="367.87" y2="-310.63"/><line x1="166.11" y1="463.75" x2="386.62" y2="-305.26"/><line x1="184.85" y1="469.13" x2="405.36" y2="-299.88"/><line x1="203.6" y1="474.5" x2="424.11" y2="-294.51"/><line x1="222.34" y1="479.88" x2="442.85" y2="-289.13"/><line x1="241.09" y1="485.25" x2="461.6" y2="-283.76"/><line x1="259.83" y1="490.63" x2="480.34" y2="-278.38"/><line x1="278.58" y1="496" x2="499.09" y2="-273.01"/><line x1="297.32" y1="501.37" x2="517.83" y2="-267.63"/><line x1="316.06" y1="506.75" x2="536.57" y2="-262.26"/><line x1="334.81" y1="512.12" x2="555.32" y2="-256.88"/><line x1="353.55" y1="517.5" x2="574.06" y2="-251.51"/><line x1="372.3" y1="522.87" x2="592.81" y2="-246.13"/><line x1="391.04" y1="528.25" x2="611.55" y2="-240.76"/><line x1="409.79" y1="533.62" x2="630.3" y2="-235.38"/><line x1="428.53" y1="539" x2="649.04" y2="-230.01"/><line x1="447.28" y1="544.37" x2="667.79" y2="-224.64"/><line x1="466.02" y1="549.75" x2="686.53" y2="-219.26"/><line x1="484.77" y1="555.12" x2="705.28" y2="-213.89"/><line x1="503.51" y1="560.5" x2="724.02" y2="-208.51"/><line x1="522.26" y1="565.87" x2="742.77" y2="-203.14"/><line x1="541" y1="571.25" x2="761.51" y2="-197.76"/><line x1="559.74" y1="576.62" x2="780.25" y2="-192.39"/><line x1="578.49" y1="582" x2="799" y2="-187.01"/><line x1="597.23" y1="587.37" x2="817.74" y2="-181.64"/><line x1="615.98" y1="592.75" x2="836.49" y2="-176.26"/><line x1="634.72" y1="598.12" x2="855.23" y2="-170.89"/></g><g clip-path="url(#hc3)" stroke="#2f9a2f" stroke-width="0.9"><line x1="-846.1" y1="173.5" x2="-625.59" y2="-595.51"/><line x1="-827.36" y1="178.88" x2="-606.85" y2="-590.13"/><line x1="-808.61" y1="184.25" x2="-588.1" y2="-584.76"/><line x1="-789.87" y1="189.63" x2="-569.36" y2="-579.38"/><line x1="-771.12" y1="195" x2="-550.61" y2="-574.01"/><line x1="-752.38" y1="200.38" x2="-531.87" y2="-568.63"/><line x1="-733.63" y1="205.75" x2="-513.12" y2="-563.26"/><line x1="-714.89" y1="211.13" x2="-494.38" y2="-557.88"/><line x1="-696.14" y1="216.5" x2="-475.63" y2="-552.51"/><line x1="-677.4" y1="221.88" x2="-456.89" y2="-547.13"/><line x1="-658.65" y1="227.25" x2="-438.14" y2="-541.76"/><line x1="-639.91" y1="232.63" x2="-419.4" y2="-536.38"/><line x1="-621.17" y1="238" x2="-400.66" y2="-531.01"/><line x1="-602.42" y1="243.38" x2="-381.91" y2="-525.63"/><line x1="-583.68" y1="248.75" x2="-363.17" y2="-520.26"/><line x1="-564.93" y1="254.13" x2="-344.42" y2="-514.88"/><line x1="-546.19" y1="259.5" x2="-325.68" y2="-509.51"/><line x1="-527.44" y1="264.88" x2="-306.93" y2="-504.13"/><line x1="-508.7" y1="270.25" x2="-288.19" y2="-498.76"/><line x1="-489.95" y1="275.63" x2="-269.44" y2="-493.38"/><line x1="-471.21" y1="281" x2="-250.7" y2="-488.01"/><line x1="-452.46" y1="286.38" x2="-231.95" y2="-482.63"/><line x1="-433.72" y1="291.75" x2="-213.21" y2="-477.26"/><line x1="-414.97" y1="297.13" x2="-194.47" y2="-471.88"/><line x1="-396.23" y1="302.5" x2="-175.72" y2="-466.51"/><line x1="-377.49" y1="307.88" x2="-156.98" y2="-461.13"/><line x1="-358.74" y1="313.25" x2="-138.23" y2="-455.76"/><line x1="-340" y1="318.63" x2="-119.49" y2="-450.38"/><line x1="-321.25" y1="324" x2="-100.74" y2="-445.01"/><line x1="-302.51" y1="329.38" x2="-82" y2="-439.63"/><line x1="-283.76" y1="334.75" x2="-63.25" y2="-434.26"/><line x1="-265.02" y1="340.13" x2="-44.51" y2="-428.88"/><line x1="-246.27" y1="345.5" x2="-25.76" y2="-423.51"/><line x1="-227.53" y1="350.88" x2="-7.02" y2="-418.13"/><line x1="-208.78" y1="356.25" x2="11.73" y2="-412.76"/><line x1="-190.04" y1="361.63" x2="30.47" y2="-407.38"/><line x1="-171.3" y1="367" x2="49.21" y2="-402.01"/><line x1="-152.55" y1="372.38" x2="67.96" y2="-396.63"/><line x1="-133.81" y1="377.75" x2="86.7" y2="-391.26"/><line x1="-115.06" y1="383.13" x2="105.45" y2="-385.88"/><line x1="-96.32" y1="388.5" x2="124.19" y2="-380.51"/><line x1="-77.57" y1="393.88" x2="142.94" y2="-375.13"/><line x1="-58.83" y1="399.25" x2="161.68" y2="-369.76"/><line x1="-40.08" y1="404.63" x2="180.43" y2="-364.38"/><line x1="-21.34" y1="410" x2="199.17" y2="-359.01"/><line x1="-2.59" y1="415.38" x2="217.92" y2="-353.63"/><line x1="16.15" y1="420.75" x2="236.66" y2="-348.26"/><line x1="34.9" y1="426.13" x2="255.41" y2="-342.88"/><line x1="53.64" y1="431.5" x2="274.15" y2="-337.51"/><line x1="72.38" y1="436.88" x2="292.89" y2="-332.13"/><line x1="91.13" y1="442.25" x2="311.64" y2="-326.76"/><line x1="109.87" y1="447.63" x2="330.38" y2="-321.38"/><line x1="128.62" y1="453" x2="349.13" y2="-316.01"/><line x1="147.36" y1="458.38" x2="367.87" y2="-310.63"/><line x1="166.11" y1="463.75" x2="386.62" y2="-305.26"/><line x1="184.85" y1="469.13" x2="405.36" y2="-299.88"/><line x1="203.6" y1="474.5" x2="424.11" y2="-294.51"/><line x1="222.34" y1="479.88" x2="442.85" y2="-289.13"/><line x1="241.09" y1="485.25" x2="461.6" y2="-283.76"/><line x1="259.83" y1="490.63" x2="480.34" y2="-278.38"/><line x1="278.58" y1="496" x2="499.09" y2="-273.01"/><line x1="297.32" y1="501.37" x2="517.83" y2="-267.63"/><line x1="316.06" y1="506.75" x2="536.57" y2="-262.26"/><line x1="334.81" y1="512.12" x2="555.32" y2="-256.88"/><line x1="353.55" y1="517.5" x2="574.06" y2="-251.51"/><line x1="372.3" y1="522.87" x2="592.81" y2="-246.13"/><line x1="391.04" y1="528.25" x2="611.55" y2="-240.76"/><line x1="409.79" y1="533.62" x2="630.3" y2="-235.38"/><line x1="428.53" y1="539" x2="649.04" y2="-230.01"/><line x1="447.28" y1="544.37" x2="667.79" y2="-224.64"/><line x1="466.02" y1="549.75" x2="686.53" y2="-219.26"/><line x1="484.77" y1="555.12" x2="705.28" y2="-213.89"/><line x1="503.51" y1="560.5" x2="724.02" y2="-208.51"/><line x1="522.26" y1="565.87" x2="742.77" y2="-203.14"/><line x1="541" y1="571.25" x2="761.51" y2="-197.76"/><line x1="559.74" y1="576.62" x2="780.25" y2="-192.39"/><line x1="578.49" y1="582" x2="799" y2="-187.01"/><line x1="597.23" y1="587.37" x2="817.74" y2="-181.64"/><line x1="615.98" y1="592.75" x2="836.49" y2="-176.26"/><line x1="634.72" y1="598.12" x2="855.23" y2="-170.89"/></g><g clip-path="url(#hc4)" stroke="#2f9a2f" stroke-width="0.9"><line x1="-846.1" y1="173.5" x2="-625.59" y2="-595.51"/><line x1="-827.36" y1="178.88" x2="-606.85" y2="-590.13"/><line x1="-808.61" y1="184.25" x2="-588.1" y2="-584.76"/><line x1="-789.87" y1="189.63" x2="-569.36" y2="-579.38"/><line x1="-771.12" y1="195" x2="-550.61" y2="-574.01"/><line x1="-752.38" y1="200.38" x2="-531.87" y2="-568.63"/><line x1="-733.63" y1="205.75" x2="-513.12" y2="-563.26"/><line x1="-714.89" y1="211.13" x2="-494.38" y2="-557.88"/><line x1="-696.14" y1="216.5" x2="-475.63" y2="-552.51"/><line x1="-677.4" y1="221.88" x2="-456.89" y2="-547.13"/><line x1="-658.65" y1="227.25" x2="-438.14" y2="-541.76"/><line x1="-639.91" y1="232.63" x2="-419.4" y2="-536.38"/><line x1="-621.17" y1="238" x2="-400.66" y2="-531.01"/><line x1="-602.42" y1="243.38" x2="-381.91" y2="-525.63"/><line x1="-583.68" y1="248.75" x2="-363.17" y2="-520.26"/><line x1="-564.93" y1="254.13" x2="-344.42" y2="-514.88"/><line x1="-546.19" y1="259.5" x2="-325.68" y2="-509.51"/><line x1="-527.44" y1="264.88" x2="-306.93" y2="-504.13"/><line x1="-508.7" y1="270.25" x2="-288.19" y2="-498.76"/><line x1="-489.95" y1="275.63" x2="-269.44" y2="-493.38"/><line x1="-471.21" y1="281" x2="-250.7" y2="-488.01"/><line x1="-452.46" y1="286.38" x2="-231.95" y2="-482.63"/><line x1="-433.72" y1="291.75" x2="-213.21" y2="-477.26"/><line x1="-414.97" y1="297.13" x2="-194.47" y2="-471.88"/><line x1="-396.23" y1="302.5" x2="-175.72" y2="-466.51"/><line x1="-377.49" y1="307.88" x2="-156.98" y2="-461.13"/><line x1="-358.74" y1="313.25" x2="-138.23" y2="-455.76"/><line x1="-340" y1="318.63" x2="-119.49" y2="-450.38"/><line x1="-321.25" y1="324" x2="-100.74" y2="-445.01"/><line x1="-302.51" y1="329.38" x2="-82" y2="-439.63"/><line x1="-283.76" y1="334.75" x2="-63.25" y2="-434.26"/><line x1="-265.02" y1="340.13" x2="-44.51" y2="-428.88"/><line x1="-246.27" y1="345.5" x2="-25.76" y2="-423.51"/><line x1="-227.53" y1="350.88" x2="-7.02" y2="-418.13"/><line x1="-208.78" y1="356.25" x2="11.73" y2="-412.76"/><line x1="-190.04" y1="361.63" x2="30.47" y2="-407.38"/><line x1="-171.3" y1="367" x2="49.21" y2="-402.01"/><line x1="-152.55" y1="372.38" x2="67.96" y2="-396.63"/><line x1="-133.81" y1="377.75" x2="86.7" y2="-391.26"/><line x1="-115.06" y1="383.13" x2="105.45" y2="-385.88"/><line x1="-96.32" y1="388.5" x2="124.19" y2="-380.51"/><line x1="-77.57" y1="393.88" x2="142.94" y2="-375.13"/><line x1="-58.83" y1="399.25" x2="161.68" y2="-369.76"/><line x1="-40.08" y1="404.63" x2="180.43" y2="-364.38"/><line x1="-21.34" y1="410" x2="199.17" y2="-359.01"/><line x1="-2.59" y1="415.38" x2="217.92" y2="-353.63"/><line x1="16.15" y1="420.75" x2="236.66" y2="-348.26"/><line x1="34.9" y1="426.13" x2="255.41" y2="-342.88"/><line x1="53.64" y1="431.5" x2="274.15" y2="-337.51"/><line x1="72.38" y1="436.88" x2="292.89" y2="-332.13"/><line x1="91.13" y1="442.25" x2="311.64" y2="-326.76"/><line x1="109.87" y1="447.63" x2="330.38" y2="-321.38"/><line x1="128.62" y1="453" x2="349.13" y2="-316.01"/><line x1="147.36" y1="458.38" x2="367.87" y2="-310.63"/><line x1="166.11" y1="463.75" x2="386.62" y2="-305.26"/><line x1="184.85" y1="469.13" x2="405.36" y2="-299.88"/><line x1="203.6" y1="474.5" x2="424.11" y2="-294.51"/><line x1="222.34" y1="479.88" x2="442.85" y2="-289.13"/><line x1="241.09" y1="485.25" x2="461.6" y2="-283.76"/><line x1="259.83" y1="490.63" x2="480.34" y2="-278.38"/><line x1="278.58" y1="496" x2="499.09" y2="-273.01"/><line x1="297.32" y1="501.37" x2="517.83" y2="-267.63"/><line x1="316.06" y1="506.75" x2="536.57" y2="-262.26"/><line x1="334.81" y1="512.12" x2="555.32" y2="-256.88"/><line x1="353.55" y1="517.5" x2="574.06" y2="-251.51"/><line x1="372.3" y1="522.87" x2="592.81" y2="-246.13"/><line x1="391.04" y1="528.25" x2="611.55" y2="-240.76"/><line x1="409.79" y1="533.62" x2="630.3" y2="-235.38"/><line x1="428.53" y1="539" x2="649.04" y2="-230.01"/><line x1="447.28" y1="544.37" x2="667.79" y2="-224.64"/><line x1="466.02" y1="549.75" x2="686.53" y2="-219.26"/><line x1="484.77" y1="555.12" x2="705.28" y2="-213.89"/><line x1="503.51" y1="560.5" x2="724.02" y2="-208.51"/><line x1="522.26" y1="565.87" x2="742.77" y2="-203.14"/><line x1="541" y1="571.25" x2="761.51" y2="-197.76"/><line x1="559.74" y1="576.62" x2="780.25" y2="-192.39"/><line x1="578.49" y1="582" x2="799" y2="-187.01"/><line x1="597.23" y1="587.37" x2="817.74" y2="-181.64"/><line x1="615.98" y1="592.75" x2="836.49" y2="-176.26"/><line x1="634.72" y1="598.12" x2="855.23" y2="-170.89"/></g><line x1="-48" y1="0" x2="-4" y2="0" stroke="#5aa4d6" stroke-width="0.9"/><line x1="-48" y1="27" x2="26" y2="27" stroke="#2a86c6" stroke-width="1.3"/><line x1="-45" y1="0.5" x2="-45" y2="26.6" stroke="#5aa4d6" stroke-width="0.9"/><path d="M-45,0 L-42.1,9.5 L-47.9,9.5 Z" fill="#2a86c6" stroke="none"/><path d="M-45,27 L-47.9,17.5 L-42.1,17.5 Z" fill="#2a86c6" stroke="none"/><line x1="-38" y1="54.7" x2="84" y2="54.7" stroke="#5aa4d6" stroke-width="0.9"/><line x1="-19.6" y1="27" x2="-19.6" y2="100" stroke="#5aa4d6" stroke-width="0.9"/><path d="M-19.6,27 L-16.7,36.5 L-22.5,36.5 Z" fill="#2a86c6" stroke="none"/><path d="M-19.6,54.7 L-22.5,45.2 L-16.7,45.2 Z" fill="#2a86c6" stroke="none"/><line x1="32" y1="-94" x2="32" y2="-4" stroke="#5aa4d6" stroke-width="0.9"/><line x1="204" y1="-94" x2="204" y2="-3" stroke="#5aa4d6" stroke-width="0.9"/><line x1="32" y1="-75" x2="204" y2="-75" stroke="#5aa4d6" stroke-width="0.9"/><path d="M32,-75 L41.5,-77.9 L41.5,-72.1 Z" fill="#2a86c6" stroke="none"/><path d="M204,-75 L194.5,-72.1 L194.5,-77.9 Z" fill="#2a86c6" stroke="none"/><line x1="85.5" y1="-38" x2="85.5" y2="21" stroke="#5aa4d6" stroke-width="0.9"/><line x1="153" y1="-38" x2="153" y2="21" stroke="#5aa4d6" stroke-width="0.9"/><line x1="85.5" y1="-21" x2="153" y2="-21" stroke="#5aa4d6" stroke-width="0.9"/><path d="M85.5,-21 L95,-23.9 L95,-18.1 Z" fill="#2a86c6" stroke="none"/><path d="M153,-21 L143.5,-18.1 L143.5,-23.9 Z" fill="#2a86c6" stroke="none"/><line x1="97" y1="20" x2="97" y2="52" stroke="#5aa4d6" stroke-width="0.9"/><line x1="141" y1="20" x2="141" y2="52" stroke="#5aa4d6" stroke-width="0.9"/><line x1="97" y1="32" x2="141" y2="32" stroke="#5aa4d6" stroke-width="0.9"/><path d="M97,32 L106.5,29.1 L106.5,34.9 Z" fill="#2a86c6" stroke="none"/><path d="M141,32 L131.5,34.9 L131.5,29.1 Z" fill="#2a86c6" stroke="none"/><line x1="95" y1="134" x2="95" y2="203" stroke="#5aa4d6" stroke-width="0.9"/><line x1="143.5" y1="135" x2="143.5" y2="203" stroke="#5aa4d6" stroke-width="0.9"/><line x1="95" y1="186" x2="200" y2="186" stroke="#5aa4d6" stroke-width="0.9"/><path d="M95,186 L104.5,183.1 L104.5,188.9 Z" fill="#2a86c6" stroke="none"/><path d="M143.5,186 L134,188.9 L134,183.1 Z" fill="#2a86c6" stroke="none"/><line x1="218" y1="128" x2="322" y2="128" stroke="#5aa4d6" stroke-width="0.9"/><line x1="232" y1="250" x2="322" y2="250" stroke="#5aa4d6" stroke-width="0.9"/><line x1="303" y1="128" x2="303" y2="250" stroke="#5aa4d6" stroke-width="0.9"/><path d="M303,128 L305.9,137.5 L300.1,137.5 Z" fill="#2a86c6" stroke="none"/><path d="M303,250 L300.1,240.5 L305.9,240.5 Z" fill="#2a86c6" stroke="none"/><line x1="229.5" y1="0" x2="391" y2="0" stroke="#5aa4d6" stroke-width="0.9"/><line x1="232" y1="250" x2="390" y2="250" stroke="#5aa4d6" stroke-width="0.9"/><line x1="372" y1="0" x2="372" y2="250" stroke="#5aa4d6" stroke-width="0.9"/><path d="M372,0 L374.9,9.5 L369.1,9.5 Z" fill="#2a86c6" stroke="none"/><path d="M372,250 L369.1,240.5 L374.9,240.5 Z" fill="#2a86c6" stroke="none"/><g fill="none" stroke="#000" stroke-width="1.2"><path d="M0,250 L0,5 A5,5 0 0 1 5,0 L221,0 A8.5,8.5 0 0 1 229.5,8.5 L229.5,250 Z"/><line x1="9.2" y1="10.6" x2="9.2" y2="250"/><polyline points="9.2,10.6 25.4,10.6 25.8,27"/><line x1="31" y1="0" x2="31" y2="250"/><line x1="25.8" y1="27" x2="214.5" y2="27"/><path d="M204,26 L204,4 A4,4 0 0 1 208,0"/><line x1="204" y1="26" x2="214.5" y2="26.5"/><line x1="214.5" y1="26.5" x2="214.5" y2="250"/><path d="M224,250 L224,6 A6,6 0 0 0 219,0.5"/><line x1="213.5" y1="9" x2="213.5" y2="24" stroke-width="2"/><path d="M62,27 L62,116 A12,12 0 0 0 74,128"/><line x1="72" y1="27" x2="72" y2="128"/><line x1="74" y1="128" x2="214.5" y2="128"/><line x1="166" y1="27" x2="166" y2="128"/><polyline points="86,27 86,54.5 153,54.5 153,27"/><polyline points="97,54.5 97,60 141,60 141,54.5"/><line x1="95" y1="60" x2="143" y2="60"/><line x1="108" y1="128" x2="108" y2="250"/></g><g stroke="#000" stroke-width="0.8"><line x1="95.36" y1="60" x2="95.36" y2="128"/><line x1="96.83" y1="60" x2="96.83" y2="128"/><line x1="98.76" y1="60" x2="98.76" y2="128"/><line x1="102.03" y1="60" x2="102.03" y2="128"/><line x1="105.23" y1="60" x2="105.23" y2="128"/><line x1="109.82" y1="60" x2="109.82" y2="128"/><line x1="113.81" y1="60" x2="113.81" y2="128"/><line x1="119" y1="60" x2="119" y2="128"/><line x1="123.17" y1="60" x2="123.17" y2="128"/><line x1="128.18" y1="60" x2="128.18" y2="128"/><line x1="131.9" y1="60" x2="131.9" y2="128"/><line x1="135.97" y1="60" x2="135.97" y2="128"/><line x1="138.66" y1="60" x2="138.66" y2="128"/><line x1="141.17" y1="60" x2="141.17" y2="128"/><line x1="142.43" y1="60" x2="142.43" y2="128"/><line x1="123.81" y1="62" x2="123.81" y2="128" stroke-width="0.55"/><line x1="126.37" y1="62" x2="126.37" y2="128" stroke-width="0.55"/><line x1="131.58" y1="62" x2="131.58" y2="128" stroke-width="0.55"/><line x1="133.66" y1="62" x2="133.66" y2="128" stroke-width="0.55"/><line x1="137.44" y1="62" x2="137.44" y2="128" stroke-width="0.55"/><line x1="138.72" y1="62" x2="138.72" y2="128" stroke-width="0.55"/><line x1="140.49" y1="62" x2="140.49" y2="128" stroke-width="0.55"/><line x1="97.74" y1="62" x2="97.74" y2="128" stroke-width="0.55"/><line x1="98.48" y1="62" x2="98.48" y2="128" stroke-width="0.55"/><line x1="101.2" y1="62" x2="101.2" y2="128" stroke-width="0.55"/><line x1="102.86" y1="62" x2="102.86" y2="128" stroke-width="0.55"/><line x1="107.37" y1="62" x2="107.37" y2="128" stroke-width="0.55"/><line x1="109.7" y1="62" x2="109.7" y2="128" stroke-width="0.55"/><line x1="115.31" y1="62" x2="115.31" y2="128" stroke-width="0.55"/><line x1="117.95" y1="62" x2="117.95" y2="128" stroke-width="0.55"/><line x1="95" y1="60" x2="95" y2="128" stroke-width="1.6"/><line x1="143" y1="60" x2="143" y2="128" stroke-width="1.6"/></g></g><text x="692.17" y="221.79" font-size="19.5" text-anchor="middle" dominant-baseline="central" transform="rotate(30 692.17 221.79)">Ø30,0</text><text x="664.67" y="269.42" font-size="19.5" text-anchor="middle" dominant-baseline="central" transform="rotate(30 664.67 269.42)">Ø11,8</text><text x="637.31" y="314.82" font-size="19.5" text-anchor="middle" dominant-baseline="central" transform="rotate(30 637.31 314.82)">Ø7,7</text><text x="610.3" y="473.59" font-size="19.5" text-anchor="middle" dominant-baseline="central" transform="rotate(30 610.3 473.59)">Ø8,5</text><text x="482.42" y="223.09" font-size="19.5" text-anchor="middle" dominant-baseline="central" transform="rotate(-60 482.42 223.09)">4,0</text><text x="470.07" y="294.48" font-size="19.5" text-anchor="middle" dominant-baseline="central" transform="rotate(-60 470.07 294.48)">5,0</text><text x="695.43" y="548.14" font-size="19.5" text-anchor="middle" dominant-baseline="central" transform="rotate(-60 695.43 548.14)">21,6</text><text x="789.42" y="527.35" font-size="19.5" text-anchor="middle" dominant-baseline="central" transform="rotate(-60 789.42 527.35)">44,0</text>
</svg>
</body></html>
